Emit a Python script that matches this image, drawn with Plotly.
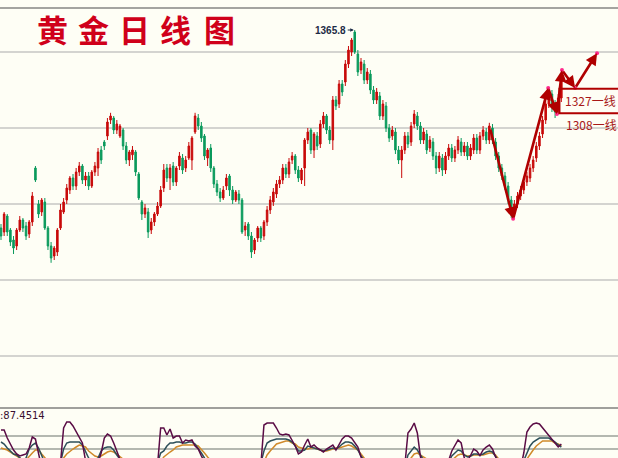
import plotly.graph_objects as go

# ---------------- data ----------------
opens = [1316.3,1315.3,1319.3,1315.8,1313.3,1311.8,1315.8,1318.3,1316.8,1314.8,
         1317.8,1331.3,1322.3,1320.3,1322.8,1316.3,1311.8,1309.3,1310.3,1316.3,
         1320.3,1323.3,1325.8,1328.8,1326.8,1330.3,1331.8,1328.3,1329.3,1326.8,
         1330.3,1331.3,1335.8,1337.8,1339.3,1343.3,1343.8,1340.8,1339.3,1340.8,
         1336.8,1333.3,1334.6,1335.3,1329.8,1322.8,1319.8,1320.3,1315.8,1317.8,
         1319.8,1321.8,1326.3,1331.3,1328.8,1331.8,1327.8,1331.8,1333.8,1331.3,
         1333.8,1333.3,1340.3,1343.8,1341.8,1339.3,1333.8,1336.3,1331.3,1327.3,
         1325.3,1323.8,1326.8,1329.3,1325.8,1323.3,1324.8,1323.3,1315.8,1317.3,
         1314.3,1310.8,1313.8,1316.3,1314.3,1317.8,1320.8,1322.8,1324.8,1327.3,
         1328.3,1331.3,1329.8,1333.3,1334.3,1330.8,1328.3,1331.3,1338.3,1340.8,
         1335.8,1339.3,1337.3,1342.3,1344.3,1340.8,1338.3,1348.3,1347.3,1352.3,
         1352.8,1357.3,1360.3,1365.3,1359.8,1355.8,1357.3,1353.3,1354.8,1350.8,
         1348.3,1349.3,1344.3,1346.8,1341.3,1339.3,1340.3,1335.8,1333.3,1335.8,
         1339.3,1337.8,1342.3,1344.3,1341.8,1338.3,1339.8,1336.3,1337.8,1334.3,
         1331.3,1333.8,1330.8,1334.3,1336.3,1333.8,1335.8,1337.8,1335.3,1336.8,
         1334.3,1335.8,1338.8,1335.8,1339.3,1340.3,1338.3,1341.3,1337.8,1334.3,
         1331.3,1329.3,1326.8,1323.3,1320.3,1322.3,1324.3,1325.8,1327.8,1328.8,
         1331.3,1333.8,1336.8,1339.8,1343.3,1347.3,1349.8,1347.3,1345.8,1348.8]

closes = [1314.3,1319.8,1315.3,1312.8,1311.3,1315.8,1318.3,1316.3,1314.3,1317.8,
          1324.3,1328.3,1319.8,1323.3,1316.3,1311.8,1308.8,1311.3,1315.8,1320.8,
          1322.8,1326.3,1328.8,1326.8,1330.3,1331.8,1328.3,1329.3,1326.8,1330.3,
          1331.8,1335.3,1333.3,1336.8,1342.8,1344.3,1340.8,1342.3,1341.8,1336.8,
          1333.3,1335.3,1335.8,1330.3,1323.8,1319.8,1321.3,1315.3,1317.8,1319.8,
          1321.8,1325.8,1330.8,1328.8,1331.3,1327.8,1331.3,1334.3,1330.8,1333.3,
          1336.8,1338.8,1344.3,1341.8,1338.8,1334.3,1335.8,1331.3,1327.3,1325.3,
          1323.8,1325.8,1328.8,1325.8,1323.3,1325.3,1323.3,1315.3,1316.8,1314.3,
          1310.3,1313.3,1316.3,1313.8,1317.8,1320.8,1323.3,1325.3,1327.3,1328.3,
          1331.3,1329.8,1332.8,1334.3,1330.8,1328.8,1330.8,1338.3,1340.3,1335.8,
          1339.8,1336.8,1342.3,1344.3,1340.8,1338.3,1348.3,1346.8,1352.3,1350.3,
          1357.3,1360.8,1363.3,1360.3,1355.3,1357.8,1353.3,1355.3,1350.8,1348.3,
          1350.3,1344.3,1347.3,1341.3,1338.8,1340.8,1335.8,1333.3,1335.8,1339.3,
          1337.3,1341.8,1344.8,1341.8,1338.3,1340.3,1335.8,1338.3,1334.3,1331.3,
          1334.3,1330.8,1334.3,1336.3,1333.8,1335.8,1338.3,1335.3,1336.8,1334.3,
          1336.3,1338.8,1335.8,1339.3,1340.8,1338.3,1341.8,1338.3,1334.3,1331.3,
          1329.3,1326.8,1323.3,1320.3,1322.3,1324.3,1325.8,1327.8,1329.3,1331.3,
          1333.3,1336.8,1339.3,1343.3,1347.3,1349.8,1346.8,1345.3,1348.8,1353.3]

highs = [1317.3,1320.3,1319.8,1316.3,1314.3,1316.3,1319.3,1318.8,1317.8,1318.3,
         1325.3,1331.8,1323.3,1323.8,1323.8,1316.8,1312.8,1311.8,1316.3,1322.3,
         1323.8,1327.3,1329.3,1329.8,1331.3,1332.8,1332.3,1330.3,1330.3,1330.8,
         1332.8,1336.3,1336.8,1338.3,1343.8,1345.1,1344.3,1343.3,1342.3,1341.3,
         1337.8,1335.8,1336.8,1335.8,1330.3,1323.3,1322.3,1321.3,1318.8,1320.3,
         1322.8,1326.8,1332.3,1332.3,1332.3,1332.8,1331.8,1335.3,1334.8,1334.3,
         1337.8,1339.3,1345.1,1344.8,1342.8,1339.8,1336.3,1337.3,1331.8,1328.3,
         1326.3,1326.8,1329.8,1329.8,1326.8,1325.8,1325.8,1323.8,1317.8,1317.8,
         1315.3,1313.8,1316.8,1316.8,1318.3,1321.8,1324.3,1326.3,1328.3,1329.3,
         1332.3,1332.3,1333.8,1335.3,1334.8,1331.8,1331.3,1338.8,1341.3,1341.3,
         1340.3,1340.3,1343.3,1345.3,1344.8,1341.8,1349.3,1349.3,1353.3,1353.3,
         1358.3,1361.8,1363.8,1365.8,1360.8,1358.8,1358.3,1356.3,1355.8,1351.8,
         1351.3,1350.3,1348.3,1347.8,1342.3,1341.8,1341.3,1336.8,1336.8,1340.3,
         1340.3,1342.8,1345.8,1345.3,1342.8,1341.3,1340.8,1339.3,1338.8,1335.3,
         1335.3,1334.8,1335.3,1337.3,1337.3,1336.8,1339.3,1338.8,1337.8,1337.8,
         1337.3,1339.8,1339.8,1340.3,1341.8,1341.3,1342.6,1342.3,1338.8,1335.3,
         1332.3,1330.3,1327.8,1324.3,1323.3,1325.3,1326.8,1328.8,1330.3,1332.3,
         1334.3,1337.8,1340.3,1344.3,1348.3,1350.8,1350.8,1348.3,1349.8,1355.1]

lows = [1313.3,1314.3,1314.3,1311.8,1309.8,1310.8,1315.3,1315.3,1313.3,1313.8,
        1316.8,1327.8,1318.8,1319.3,1315.8,1310.8,1307.6,1308.3,1309.3,1315.8,
        1319.8,1322.3,1324.8,1325.8,1325.8,1329.3,1327.3,1326.8,1325.8,1326.3,
        1329.3,1329.3,1332.3,1335.8,1338.3,1342.3,1339.8,1339.8,1338.8,1335.8,
        1332.3,1331.8,1333.3,1329.3,1323.3,1318.3,1318.8,1313.8,1314.8,1316.8,
        1319.3,1321.3,1325.3,1327.8,1325.8,1326.8,1326.8,1330.8,1329.8,1330.3,
        1333.3,1330.8,1339.8,1340.8,1337.8,1333.3,1331.8,1330.3,1326.3,1324.3,
        1322.8,1323.3,1325.8,1324.3,1322.3,1322.8,1322.3,1314.8,1314.3,1313.3,
        1308.8,1309.8,1312.8,1312.8,1313.3,1316.8,1319.8,1321.8,1323.8,1326.3,
        1327.3,1328.8,1328.8,1332.3,1329.8,1327.8,1327.3,1326.8,1337.3,1334.8,
        1333.8,1335.8,1336.3,1341.3,1339.8,1337.3,1335.8,1345.8,1346.3,1349.3,
        1351.8,1356.3,1359.3,1359.8,1354.3,1354.8,1352.3,1352.3,1349.8,1347.3,
        1347.3,1343.3,1343.3,1340.3,1337.8,1338.3,1334.8,1332.3,1328.8,1334.8,
        1336.3,1336.8,1341.3,1340.8,1337.3,1337.3,1334.8,1335.3,1333.3,1329.8,
        1330.3,1329.3,1329.8,1333.3,1332.8,1332.8,1334.8,1334.3,1334.3,1333.3,
        1333.3,1334.8,1334.8,1334.8,1338.3,1337.3,1337.3,1337.3,1333.3,1330.3,
        1328.3,1325.8,1322.3,1318.8,1319.3,1321.3,1323.3,1324.8,1326.8,1327.8,
        1330.3,1332.8,1335.8,1338.8,1342.3,1346.3,1345.3,1343.8,1344.8,1347.8]

# indicator lines (J, K, D style)
ind_j = [56,56,40,28,16,8,4,6,8,20,42,38,0,-20,-30,-40,-45,-40,-30,-10,
         60,72,72,64,52,42,30,-5,-15,-20,-18,-10,10,40,48,44,30,10,-10,-25,
         -35,-40,-38,-45,-50,-55,-50,-55,-45,-35,-15,60,60,46,58,40,44,44,30,36,
         34,36,24,18,4,-10,-20,-30,-40,-45,-48,-44,-38,-42,-48,-45,-46,-55,-52,-55,
         -58,-50,-42,-15,66,70,70,70,60,48,46,48,46,34,24,8,12,26,38,22,
         26,20,16,12,18,22,26,16,28,38,44,44,40,30,22,2,-15,-25,-35,-40,
         -38,-45,-42,-50,-55,-50,-55,-58,-50,-15,50,58,70,50,2,-10,-20,-15,-25,-30,
         -22,-28,-18,-5,14,26,36,30,0,-5,5,18,14,5,16,22,26,18,-5,-20,
         -35,-45,-55,-60,-50,-40,-20,10,52,62,68,70,68,60,54,46,36,30,22,28]
ind_k = [32,28,20,14,8,6,0,-5,0,18,26,30,20,0,-10,-20,-25,-25,-20,-10,
         18,30,32,32,32,32,26,14,0,-5,-5,0,14,20,22,22,16,6,-5,-15,
         -20,-25,-25,-30,-35,-38,-36,-38,-35,-28,-10,10,14,24,30,30,32,32,30,30,
         32,32,28,20,10,0,-10,-18,-25,-30,-32,-32,-30,-30,-33,-33,-33,-38,-38,-40,
         -42,-40,-35,-10,14,30,34,36,38,38,38,38,36,32,24,14,14,16,24,22,
         20,18,16,14,16,18,20,18,22,28,32,32,30,24,16,4,-8,-15,-22,-28,
         -28,-32,-32,-36,-38,-36,-38,-40,-38,-20,6,14,22,16,4,-4,-10,-10,-16,-20,
         -18,-20,-15,-8,4,10,16,14,6,2,4,8,8,6,8,12,14,12,4,-8,
         -18,-28,-36,-42,-38,-32,-20,-5,10,24,32,36,40,40,40,40,36,32,26,22]
ind_d = [20,18,16,12,8,4,0,-4,-4,4,10,16,16,8,0,-8,-14,-16,-16,-12,
         0,8,14,18,22,26,24,22,14,8,4,2,4,8,12,14,12,8,2,-4,
         -10,-14,-18,-20,-24,-28,-30,-32,-32,-30,-22,-8,2,8,12,16,22,24,26,26,
         26,26,26,24,18,10,2,-6,-12,-18,-22,-24,-24,-25,-26,-27,-28,-30,-32,-34,
         -36,-36,-34,-22,-6,6,14,22,28,30,32,34,34,30,28,22,20,18,18,20,
         20,18,16,14,14,16,18,20,20,22,24,26,24,20,16,8,-2,-8,-14,-20,
         -22,-26,-28,-30,-32,-32,-34,-35,-34,-25,-10,0,8,10,6,2,-4,-6,-10,-14,
         -15,-16,-14,-10,-4,2,6,8,6,4,4,6,6,6,6,8,10,10,6,-2,
         -10,-18,-26,-32,-32,-30,-24,-14,-2,8,16,24,30,34,34,34,34,30,28,24]

days = list(range(len(closes)))

peak_label = "1365.8"
peak_day = 113
peak_price = 1365.8
indicator_label = ":87.4514"
title_chars = ["黄", "金", "日", "线", "图"]
level_labels = ["1327一线", "1308一线"]

# hand-drawn trend arrows (vertices: day index, price)
trend_x = [156.2, 163.6, 174.8, 177.6, 179.2, 183.4, 190.4]
trend_y = [1341.3, 1318.6, 1351.3, 1344.8, 1355.8, 1351.3, 1360.0]

# ---------------- styling ----------------
BG = "#fefef5"
UP = "#c80a0a"
DOWN = "#0a9a5c"
ARROW = "#b00000"
GRID = "#d4d4d0"

X_RANGE = [-0.32, 197.1]
Y_RANGE = [1271.3, 1371.3]
MAIN_GRID = [1360.3, 1341.3, 1322.3, 1303.3, 1284.3]
IND_GRID = [18, 44]
SPLIT = 50 / 450

fig = go.Figure()

fig.add_trace(go.Candlestick(
    x=days, open=opens, high=highs, low=lows, close=closes,
    increasing=dict(line=dict(color=UP, width=1), fillcolor=UP),
    decreasing=dict(line=dict(color=DOWN, width=1), fillcolor=DOWN),
    whiskerwidth=0, showlegend=False, hoverinfo="skip",
    xaxis="x", yaxis="y",
))

for series, color in [(ind_d, "#d08a2a"), (ind_k, "#2c4f58"), (ind_j, "#5a0c45")]:
    fig.add_trace(go.Scatter(
        x=days, y=series, mode="lines", line=dict(color=color, width=1.5),
        xaxis="x2", yaxis="y2", showlegend=False, hoverinfo="skip",
    ))

# pink dots at arrow vertices
fig.add_trace(go.Scatter(
    x=trend_x[1:], y=trend_y[1:], mode="markers",
    marker=dict(color="#ff2a8c", size=4), xaxis="x", yaxis="y",
    showlegend=False, hoverinfo="skip",
))

annotations = []
for k in range(len(trend_x) - 1):
    annotations.append(dict(
        x=trend_x[k + 1], y=trend_y[k + 1], ax=trend_x[k], ay=trend_y[k],
        xref="x", yref="y", axref="x", ayref="y", text="", showarrow=True,
        arrowhead=2, arrowsize=0.9, arrowwidth=2.6, arrowcolor=ARROW,
        standoff=0, startstandoff=0,
    ))

# title characters
title_pos = [52, 93, 134, 175, 219]
for ch, px in zip(title_chars, title_pos):
    annotations.append(dict(
        x=px / 618, y=(458 - 29) / 450, xref="paper", yref="paper",
        text=f"<b>{ch}</b>", showarrow=False, xanchor="center", yanchor="middle",
        font=dict(family="Noto Sans CJK SC", size=31, color="#d0001a"),
    ))

annotations.append(dict(
    x=peak_day, y=peak_price, xref="x", yref="y", text=f"<b>{peak_label}</b>",
    showarrow=True, ax=-24, ay=0, arrowhead=2, arrowsize=0.7, arrowwidth=1,
    arrowcolor="#1c2b45", standoff=1,
    font=dict(family="Liberation Sans", size=10, color="#1c2b45"),
))

annotations.append(dict(
    x=188.3, y=1348.3, xref="x", yref="y", text=level_labels[0], showarrow=False,
    font=dict(family="Noto Sans CJK SC", size=12, color="#a81818"),
))
annotations.append(dict(
    x=188.6, y=1342.3, xref="x", yref="y", text=level_labels[1], showarrow=False,
    font=dict(family="Noto Sans CJK SC", size=12, color="#a81818"),
))

annotations.append(dict(
    x=-0.004, y=(458 - 415) / 450, xref="paper", yref="paper", text=indicator_label,
    showarrow=False, xanchor="left", yanchor="middle",
    font=dict(family="DejaVu Sans", size=10, color="#3a1030"),
))

shapes = [
    dict(type="line", xref="paper", yref="paper", x0=0, x1=1, y0=1, y1=1,
         line=dict(color="#a4a4a0", width=2)),
    dict(type="line", xref="paper", yref="paper", x0=0, x1=1, y0=SPLIT, y1=SPLIT,
         line=dict(color="#a0a09c", width=2)),
    dict(type="rect", xref="x", yref="y", x0=178.4, x1=200, y0=1345.0, y1=1351.1,
         line=dict(color=ARROW, width=2), fillcolor="rgba(0,0,0,0)"),
]

fig.update_layout(
    width=618, height=458,
    margin=dict(l=0, r=0, t=8, b=0, pad=0, autoexpand=False),
    paper_bgcolor=BG, plot_bgcolor=BG,
    showlegend=False,
    xaxis=dict(range=X_RANGE, domain=[0, 1], showgrid=False, zeroline=False,
               showticklabels=False, ticks="", rangeslider=dict(visible=False),
               anchor="y", automargin=False),
    xaxis2=dict(range=X_RANGE, domain=[0, 1], matches="x", showgrid=False,
                zeroline=False, showticklabels=False, ticks="", anchor="y2",
                automargin=False),
    yaxis=dict(range=Y_RANGE, domain=[SPLIT, 1], tickvals=MAIN_GRID,
               showticklabels=False, ticks="", gridcolor=GRID, gridwidth=2,
               zeroline=False, automargin=False),
    yaxis2=dict(range=[0, 100], domain=[0, SPLIT], tickvals=IND_GRID,
                showticklabels=False, ticks="", gridcolor="#b4b8b0", gridwidth=2,
                zeroline=False, automargin=False),
    annotations=annotations,
    shapes=shapes,
)

fig.write_html(
    "out.html",
    config={"displayModeBar": False, "staticPlot": True},
    post_script="document.body.style.margin='0px';document.body.style.overflow='hidden';"
                f"document.body.style.background='{BG}';",
)
